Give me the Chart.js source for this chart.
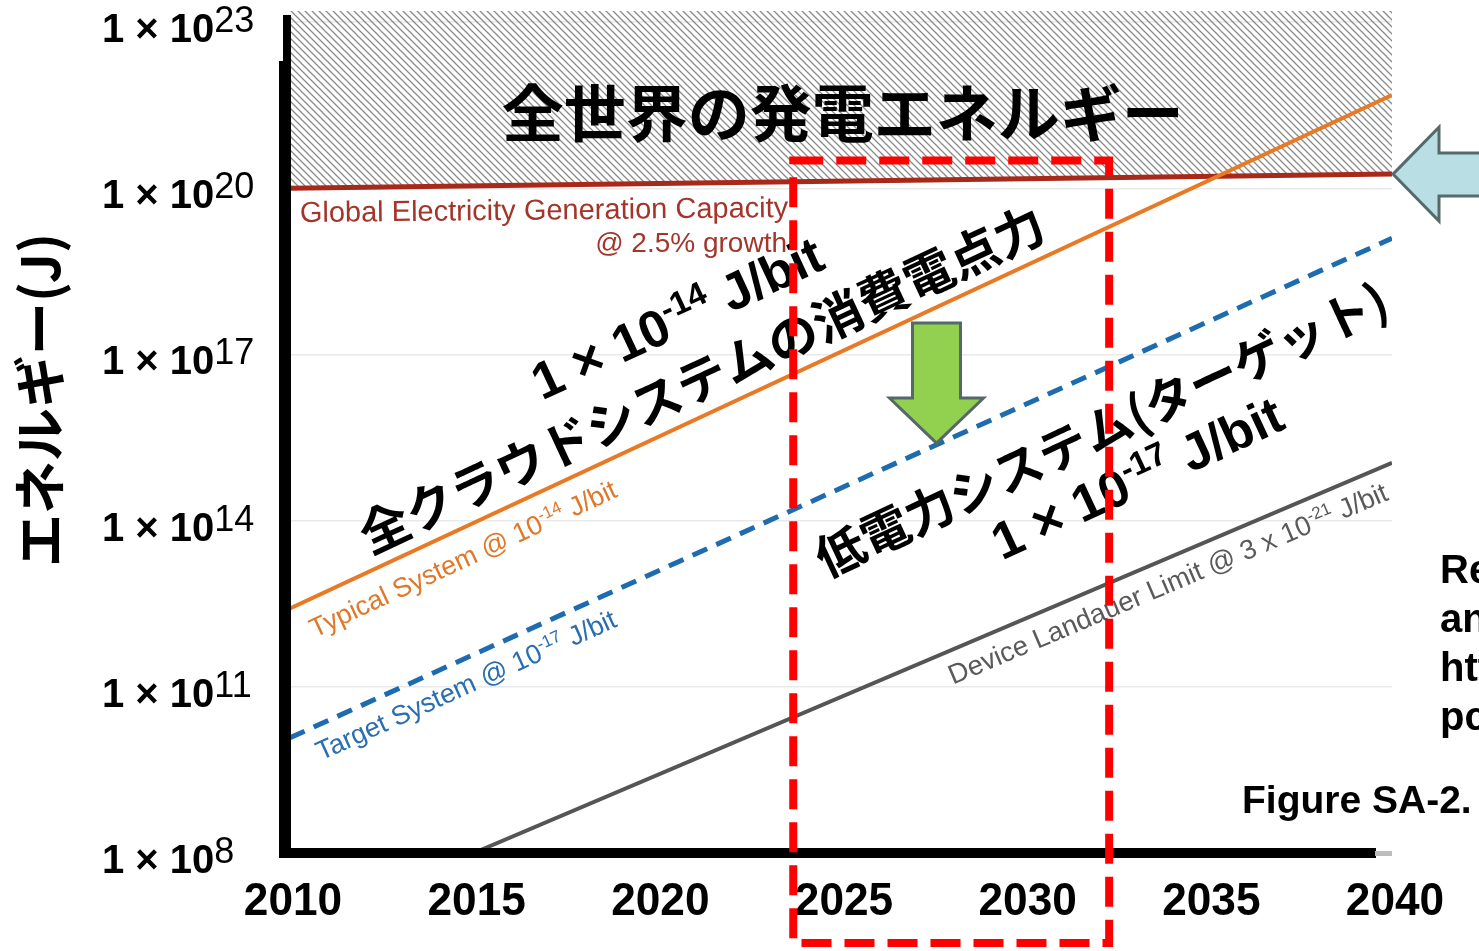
<!DOCTYPE html>
<html>
<head>
<meta charset="utf-8">
<script src="https://cdn.jsdelivr.net/npm/chart.js@4.4.1/dist/chart.umd.min.js"></script>
<style>
  html, body { margin: 0; padding: 0; background: #fff; }
  #wrap { width: 1479px; height: 951px; }
</style>
</head>
<body>
<div id="wrap"><canvas id="chart" width="1479" height="951"></canvas></div>
<script>
// data (log y, J)
const years = [2010, 2040];
const xTicks = [2010, 2015, 2020, 2025, 2030, 2035, 2040];
const yTickExps = [8, 11, 14, 17, 20, 23];
const globalCap = [1.0e20, 1.8e20];
const typicalSys = [2.6e12, 4.8e21];
const targetSys = [1.2e10, 1.25e19];
const landauerYears = [2015, 2040];
const landauerLimit = [1.0e8, 1.1e15];

const LAT = '"Liberation Sans", Arial, sans-serif';
const JP = '"Noto Sans CJK JP", "Noto Sans", sans-serif';

function makeHatch() {
  const p = document.createElement('canvas');
  p.width = 7; p.height = 7;
  const g = p.getContext('2d');
  g.strokeStyle = '#8a8a8a';
  g.lineWidth = 1.3;
  g.beginPath();
  g.moveTo(-1, -1); g.lineTo(8, 8);
  g.moveTo(-1, 6); g.lineTo(1, 8);
  g.moveTo(6, -1); g.lineTo(8, 1);
  g.stroke();
  return g.createPattern(p, 'repeat');
}

function pts(xs, ys) {
  return xs.map((x, i) => ({ x: x, y: ys[i] }));
}

// text made of pieces (for superscripts), rotated round an anchor
function rich(ctx, parts, x, y, angle, color, align, shift) {
  ctx.save();
  ctx.translate(x, y);
  ctx.rotate(angle * Math.PI / 180);
  ctx.fillStyle = color;
  ctx.textBaseline = 'alphabetic';
  ctx.textAlign = 'left';
  let total = 0;
  parts.forEach(p => { ctx.font = p.font; p.w = ctx.measureText(p.t).width; total += p.w; });
  let cx = align === 'left' ? 0 : (align === 'right' ? -total : -total / 2);
  parts.forEach(p => {
    ctx.font = p.font;
    ctx.fillText(p.t, cx, (shift || 0) - (p.rise || 0));
    cx += p.w;
  });
  ctx.restore();
}

function supLabel(pre, sup, post, size, supSize, weight, supWeight) {
  const parts = [{ t: pre, font: weight + ' ' + size + 'px ' + LAT }];
  parts.push({ t: sup, font: supWeight + ' ' + supSize + 'px ' + LAT, rise: size * 0.38 });
  if (post) parts.push({ t: post, font: weight + ' ' + size + 'px ' + LAT });
  return parts;
}

const extras = {
  id: 'extras',
  afterDatasetsDraw(chart) {
    const ctx = chart.ctx;
    const xs = chart.scales.x, ys = chart.scales.y;
    const a = chart.chartArea;
    const at = (yr, e) => ({ x: xs.getPixelForValue(yr), y: ys.getPixelForValue(Math.pow(10, e)) });

    // axes
    ctx.save();
    ctx.fillStyle = '#000';
    ctx.fillRect(a.left - 7, a.top + 4, 8, 50);
    ctx.fillRect(a.left - 11, a.top + 50, 12, a.bottom - a.top - 45);
    ctx.fillRect(a.left - 11, a.bottom - 5, a.right - a.left - 5, 10);
    ctx.fillStyle = '#bdbdbd';
    ctx.fillRect(a.right - 17, a.bottom - 2, 17, 5);
    ctx.restore();

    // y tick labels
    yTickExps.forEach(e => {
      const y = ys.getPixelForValue(Math.pow(10, e));
      rich(ctx, [
        { t: '1 × 10', font: 'bold 40px ' + LAT },
        { t: String(e), font: '36px ' + LAT, rise: 10 }
      ], 102, y + 20, 0, '#000', 'left', 0);
    });

    // x tick labels
    xTicks.forEach(v => {
      const x = xs.getPixelForValue(v);
      ctx.save();
      ctx.translate(x + 3, a.bottom + 62);
      ctx.scale(0.94, 1);
      ctx.font = 'bold 47px ' + LAT;
      ctx.textAlign = 'center';
      ctx.textBaseline = 'alphabetic';
      ctx.fillStyle = '#000';
      ctx.fillText(String(v), 0, 0);
      ctx.restore();
    });

    // y title
    ctx.save();
    ctx.translate(40, (a.top + a.bottom) / 2 - 32);
    ctx.rotate(-Math.PI / 2);
    ctx.font = 'bold 53px ' + JP;
    ctx.textAlign = 'center';
    ctx.textBaseline = 'middle';
    ctx.fillStyle = '#000';
    ctx.fillText('エネルギー(J)', 0, 0);
    ctx.restore();

    // labels inside the plot
    let p = at(2025.05, 21.32);
    rich(ctx, [{ t: '全世界の発電エネルギー', font: 'bold 62px ' + JP }], p.x, p.y, 0, '#000', 'center', 22);

    p = at(2010.27, 19.39);
    rich(ctx, [{ t: 'Global Electricity Generation Capacity', font: '29px ' + LAT }], p.x, p.y, -0.6, '#a3352a', 'left', 0);
    p = at(2023.53, 18.85);
    rich(ctx, [{ t: '@ 2.5% growth', font: '28px ' + LAT }], p.x, p.y, 0, '#a3352a', 'right', 0);

    p = at(2014.71, 13.31);
    rich(ctx, supLabel('Typical System @ 10', '-14', ' J/bit', 27, 17, 'normal', 'normal'), p.x, p.y, -25, '#e0782a', 'center', 9);
    p = at(2014.79, 11.03);
    rich(ctx, supLabel('Target System @ 10', '-17', ' J/bit', 27, 17, 'normal', 'normal'), p.x, p.y, -24.4, '#2a6db0', 'center', 9);
    p = at(2033.9, 12.86);
    rich(ctx, supLabel('Device Landauer Limit @ 3 x 10', '-21', ' J/bit', 27.5, 17, 'normal', 'normal'), p.x, p.y, -23, '#5a5a5a', 'center', 9);

    p = at(2020.54, 17.66);
    rich(ctx, supLabel('1 × 10', '-14', ' J/bit', 52, 33, 'bold', 'bold'), p.x, p.y, -25, '#000', 'center', 18);
    p = at(2021.22, 16.54);
    rich(ctx, [{ t: '全クラウドシステムの消費電点力', font: 'bold 50px ' + JP }], p.x, p.y, -25, '#000', 'center', 18);
    p = at(2032.1, 15.64);
    rich(ctx, [{ t: '低電力システム(ターゲット)', font: 'bold 49px ' + JP }], p.x, p.y, -25, '#000', 'center', 18);
    p = at(2033.06, 14.77);
    rich(ctx, supLabel('1 × 10', '-17', ' J/bit', 52, 33, 'bold', 'bold'), p.x, p.y, -25, '#000', 'center', 18);

    // right-hand text cut by the frame
    ctx.save();
    ctx.font = 'bold 40px ' + LAT;
    ctx.fillStyle = '#000';
    ctx.textAlign = 'left';
    ctx.textBaseline = 'alphabetic';
    ['Re', 'an', 'htt', 'pc'].forEach((s, i) => ctx.fillText(s, 1440, 583 + i * 49));
    ctx.font = 'bold 39px ' + LAT;
    ctx.fillText('Figure SA-2.', 1242, 813);
    ctx.restore();

    // green arrow (down onto target line)
    let t = at(2027.6, 15.4);
    ctx.save();
    ctx.beginPath();
    ctx.moveTo(t.x - 24, t.y - 120);
    ctx.lineTo(t.x + 24, t.y - 120);
    ctx.lineTo(t.x + 24, t.y - 45);
    ctx.lineTo(t.x + 47, t.y - 45);
    ctx.lineTo(t.x, t.y);
    ctx.lineTo(t.x - 47, t.y - 45);
    ctx.lineTo(t.x - 24, t.y - 45);
    ctx.closePath();
    ctx.fillStyle = '#92d050';
    ctx.fill();
    ctx.lineWidth = 3;
    ctx.strokeStyle = '#566868';
    ctx.stroke();
    ctx.restore();

    // light blue arrow pointing at the capacity line
    t = { x: a.right + 1, y: ys.getPixelForValue(globalCap[1]) };
    ctx.save();
    ctx.beginPath();
    ctx.moveTo(t.x, t.y);
    ctx.lineTo(t.x + 46, t.y - 47);
    ctx.lineTo(t.x + 46, t.y - 21);
    ctx.lineTo(t.x + 140, t.y - 21);
    ctx.lineTo(t.x + 140, t.y + 22);
    ctx.lineTo(t.x + 46, t.y + 22);
    ctx.lineTo(t.x + 46, t.y + 47);
    ctx.closePath();
    ctx.fillStyle = '#b9dfe5';
    ctx.fill();
    ctx.lineWidth = 3;
    ctx.strokeStyle = '#566a6a';
    ctx.stroke();
    ctx.restore();

    // red dashed box 2023.7 - 2032.3
    const l = xs.getPixelForValue(2023.7), r = xs.getPixelForValue(2032.3);
    const top = ys.getPixelForValue(Math.pow(10, 20.5));
    ctx.save();
    ctx.strokeStyle = '#ff0000';
    ctx.lineWidth = 8;
    ctx.setLineDash([30, 13]);
    ctx.strokeRect(l, top, r - l, a.bottom + 90 - top);
    ctx.restore();
  }
};

const line = { pointRadius: 0, tension: 0, fill: false, borderCapStyle: 'butt' };

new Chart(document.getElementById('chart'), {
  type: 'line',
  data: {
    datasets: [
      Object.assign({ label: 'Typical System', data: pts(years, typicalSys), borderColor: '#e87a26', borderWidth: 4 }, line),
      Object.assign({ label: 'Target System', data: pts(years, targetSys), borderColor: '#1e6bb0', borderWidth: 5, borderDash: [16, 10] }, line),
      Object.assign({ label: 'Device Landauer Limit', data: pts(landauerYears, landauerLimit), borderColor: '#555', borderWidth: 4 }, line),
      Object.assign({}, line, { label: 'Global Electricity Generation Capacity', data: pts(years, globalCap), borderColor: '#a8281a', borderWidth: 5, fill: 'end', backgroundColor: makeHatch() })
    ]
  },
  options: {
    responsive: false,
    devicePixelRatio: 1,
    animation: false,
    layout: { padding: { left: 290, right: 87, top: 11, bottom: 98 } },
    scales: {
      x: { type: 'linear', display: false, min: 2010, max: 2040 },
      y: {
        type: 'logarithmic',
        min: 1e8,
        max: Math.pow(10, 23.2),
        ticks: { display: false },
        border: { display: false },
        grid: { color: '#e9e9e9', lineWidth: 1.5, drawTicks: false },
        afterBuildTicks: s => { s.ticks = yTickExps.map(e => ({ value: Math.pow(10, e) })); },
        afterFit: s => { s.width = 0; }
      }
    },
    plugins: {
      legend: { display: false },
      tooltip: { enabled: false },
      filler: { drawTime: 'beforeDatasetsDraw' }
    }
  },
  plugins: [extras]
});
</script>
</body>
</html>
